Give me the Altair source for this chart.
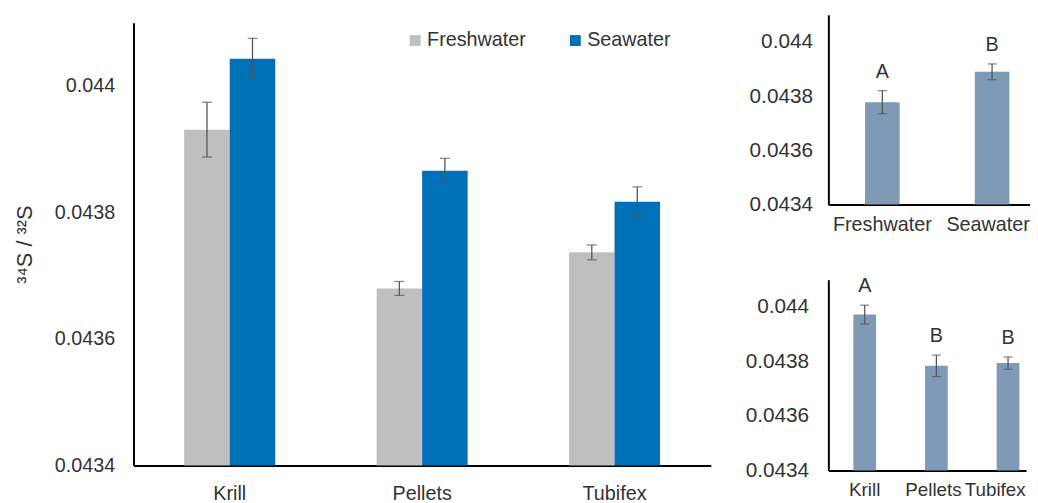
import altair as alt
import pandas as pd

# ---------------- data ----------------
categories = ["Krill", "Pellets", "Tubifex"]
series = ["Freshwater", "Seawater"]
fw_mean = [0.043931, 0.043680, 0.043737]
fw_err = [0.0000433, 0.0000110, 0.0000118]
sw_mean = [0.044043, 0.043866, 0.043817]
sw_err = [0.0000323, 0.0000197, 0.0000236]

water_mean = [0.043778, 0.043890]
water_err = [0.0000425, 0.0000290]
water_letters = ["A", "B"]

diet_mean = [0.043972, 0.043784, 0.043794]
diet_err = [0.0000345, 0.0000395, 0.0000225]
diet_letters = ["A", "B", "B"]

y_ticks = [0.0434, 0.0436, 0.0438, 0.044]
y_domain = [0.0434, 0.0441]
BASE = 0.0434

FONT = "Liberation Sans"
TXT = "#333333"
ERR = "#555555"

# ---------------- tables ----------------
rows = []
for i, c in enumerate(categories):
    rows.append(dict(cat=c, water=series[0], mean=fw_mean[i], err=fw_err[i]))
    rows.append(dict(cat=c, water=series[1], mean=sw_mean[i], err=sw_err[i]))
main_df = pd.DataFrame(rows)
main_df["lo"] = main_df["mean"] - main_df["err"]
main_df["hi"] = main_df["mean"] + main_df["err"]

water_df = pd.DataFrame(dict(cat=series, mean=water_mean, err=water_err, letter=water_letters))
water_df["lo"] = water_df["mean"] - water_df["err"]
water_df["hi"] = water_df["mean"] + water_df["err"]

diet_df = pd.DataFrame(dict(cat=categories, mean=diet_mean, err=diet_err, letter=diet_letters))
diet_df["lo"] = diet_df["mean"] - diet_df["err"]
diet_df["hi"] = diet_df["mean"] + diet_df["err"]


def yenc(field, title=None, label_pad=19, fs=20, title_pad=18, yrange=None):
    sc = dict(domain=y_domain, zero=False, nice=False)
    if yrange is not None:
        sc["range"] = yrange
    return alt.Y(
        f"{field}:Q",
        scale=alt.Scale(**sc),
        axis=alt.Axis(values=y_ticks, format="~g", title=title, labelPadding=label_pad,
                      labelFontSize=fs, titlePadding=title_pad, titleFontSize=22,
                      titleFont=FONT, titleFontWeight="normal", titleColor=TXT),
    )


# ---------------- main panel ----------------
MAIN_H = 456
MAIN_RANGE = [456, 8]
x_main = alt.X("cat:N", sort=categories,
               scale=alt.Scale(paddingInner=0.527, paddingOuter=0.2635),
               axis=alt.Axis(title=None, labelAngle=0, labelPadding=18, labelFontSize=20))
xoff = alt.XOffset("water:N", sort=series, scale=alt.Scale(paddingInner=0, paddingOuter=0))
ytitle = "³⁴S / ³²S"


def ym(field):
    return yenc(field, ytitle, 19, 20, 18, MAIN_RANGE)


bars = alt.Chart(main_df).mark_bar().encode(
    x=x_main, xOffset=xoff,
    y=ym("mean"), y2=alt.datum(BASE),
    color=alt.Color("water:N", sort=series,
                    scale=alt.Scale(domain=series, range=["#bfbfbf", "#0070b8"]),
                    legend=alt.Legend(orient="none", legendX=275, legendY=16, direction="horizontal",
                                      title=None, symbolType="square", symbolSize=121,
                                      symbolStrokeWidth=0, labelFontSize=20, labelFont=FONT,
                                      labelColor=TXT, columnPadding=39, labelOffset=2)),
)
rules = alt.Chart(main_df).mark_rule(color=ERR, strokeWidth=1.3).encode(
    x=x_main, xOffset=xoff, y=ym("lo"), y2="hi:Q")
tick_lo = alt.Chart(main_df).mark_tick(color=ERR, size=10, thickness=1.3).encode(
    x=x_main, xOffset=xoff, y=ym("lo"))
tick_hi = alt.Chart(main_df).mark_tick(color=ERR, size=10, thickness=1.3).encode(
    x=x_main, xOffset=xoff, y=ym("hi"))

main = alt.layer(bars, rules, tick_lo, tick_hi).properties(width=584, height=MAIN_H)

# label nudges so the right-most labels stay inside the page
label_shift = {"condition": [
    {"test": "datum.label === 'Tubifex'", "value": -13},
    {"test": "datum.label === 'Pellets'", "value": -3},
    {"test": "datum.label === 'Seawater'", "value": -4},
], "value": 0}


# ---------------- small panels ----------------
def small_panel(df, cats, width, height, p_in, p_out, align, label_pad, xfs, tick_w):
    xs = alt.X("cat:N", sort=cats,
               scale=alt.Scale(paddingInner=p_in, paddingOuter=p_out, align=align),
               axis=alt.Axis(title=None, labelAngle=0, labelPadding=10, labelFontSize=xfs,
                             labelOffset=label_shift))
    yf = lambda f: yenc(f, None, label_pad, 21)
    b = alt.Chart(df).mark_bar(color="#7f9ab6").encode(x=xs, y=yf("mean"), y2=alt.datum(BASE))
    r = alt.Chart(df).mark_rule(color=ERR, strokeWidth=1.3).encode(x=xs, y=yf("lo"), y2="hi:Q")
    tl = alt.Chart(df).mark_tick(color=ERR, size=tick_w, thickness=1.3).encode(x=xs, y=yf("lo"))
    th = alt.Chart(df).mark_tick(color=ERR, size=tick_w, thickness=1.3).encode(x=xs, y=yf("hi"))
    t = alt.Chart(df).mark_text(baseline="bottom", dy=-9, fontSize=20, font=FONT, color=TXT).encode(
        x=xs, y=yf("hi"), text="letter:N")
    return alt.layer(b, r, tl, th, t).properties(width=width, height=height)


top_right = small_panel(water_df, series, 204, 192, 0.6847, 0.2613, 0.64, 16, 20, 9)
bottom_right = small_panel(diet_df, categories, 200, 193, 0.683, 0.2208, 0.79, 20, 19, 9)

right = alt.vconcat(top_right, bottom_right, spacing=42)

chart = alt.hconcat(main, right, spacing=34).properties(
    padding={"left": 5, "top": 4, "right": 0, "bottom": 0}
).configure_view(stroke=None).configure_axis(
    domainColor="black", domainWidth=2, ticks=False, grid=False,
    labelFont=FONT, labelColor=TXT,
).configure_title(font=FONT)

chart.save("out.html", embed_options={"renderer": "svg", "actions": False})
